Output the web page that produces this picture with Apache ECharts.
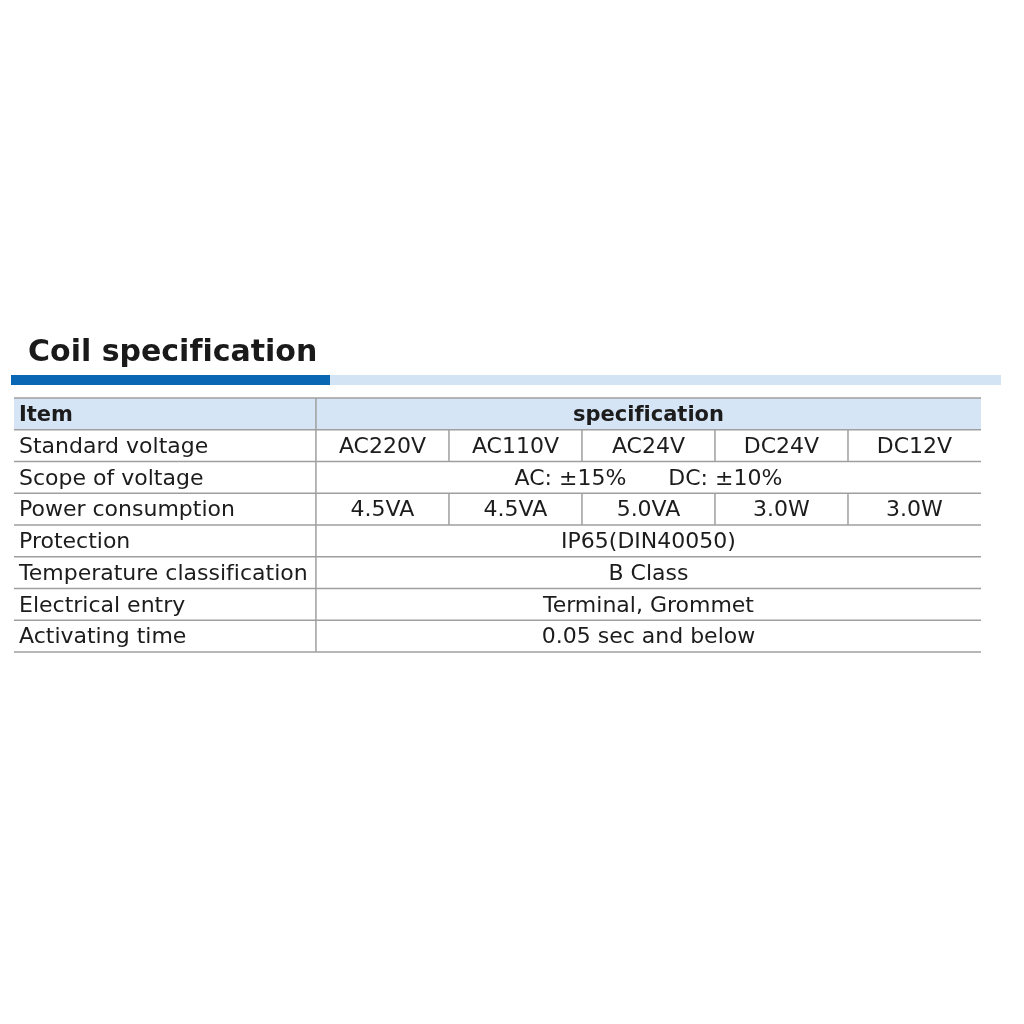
<!DOCTYPE html>
<html>
<head>
<meta charset="utf-8">
<script src="https://cdn.jsdelivr.net/npm/echarts@6/dist/echarts.min.js"></script>
<style>html,body{margin:0;padding:0;background:#fff}#c{width:1024px;height:1024px}</style>
</head>
<body>
<div id="c"></div>
<script>
// ---- data ----
const titleText = 'Coil specification';
const headers = ['Item', 'specification'];
const items = ['Standard voltage', 'Scope of voltage', 'Power consumption', 'Protection',
  'Temperature classification', 'Electrical entry', 'Activating time'];
const standardVoltage = ['AC220V', 'AC110V', 'AC24V', 'DC24V', 'DC12V'];
const scopeOfVoltage = ['AC: \u00b115%      DC: \u00b110%'];
const powerConsumption = ['4.5VA', '4.5VA', '5.0VA', '3.0W', '3.0W'];
const protection = ['IP65(DIN40050)'];
const temperatureClass = ['B Class'];
const electricalEntry = ['Terminal, Grommet'];
const activatingTime = ['0.05 sec and below'];
const specValues = [standardVoltage, scopeOfVoltage, powerConsumption, protection,
  temperatureClass, electricalEntry, activatingTime];

// ---- layout (axis units: item column width, then 5 unit-wide spec columns) ----
const itemColWidth = 2.27;
const specCols = 5;
const rowNames = [headers[0]].concat(items);

const cells = [];
cells.push({ x0: 0, x1: itemColWidth, row: 0, text: headers[0], align: 'left', bold: true, header: true });
cells.push({ x0: itemColWidth, x1: itemColWidth + specCols, row: 0, text: headers[1], align: 'center', bold: true, header: true });
items.forEach(function (name, i) {
  const r = i + 1;
  cells.push({ x0: 0, x1: itemColWidth, row: r, text: name, align: 'left' });
  const vals = specValues[i];
  const span = specCols / vals.length;
  vals.forEach(function (v, j) {
    cells.push({ x0: itemColWidth + j * span, x1: itemColWidth + (j + 1) * span, row: r, text: v, align: 'center' });
  });
});

// avoid the "fi" ligature of the font (reference has separate letters)
function noLig(s) { return s.replace(/f([il])/g, 'f\u200C$1'); }

const lineColor = '#9f9f9f';
const textColor = '#1c1c1c';
const fontFamily = '"DejaVu Sans", sans-serif';

const chart = echarts.init(document.getElementById('c'), null, { renderer: 'canvas' });
chart.setOption({
  animation: false,
  backgroundColor: '#ffffff',
  grid: { left: 14, top: 398, width: 967, height: 254 },
  xAxis: { type: 'value', min: 0, max: itemColWidth + specCols, show: false },
  yAxis: { type: 'category', data: rowNames, inverse: true, show: false },
  graphic: [
    { type: 'rect', shape: { x: 11, y: 375, width: 319, height: 10 }, style: { fill: '#0a67b3' } },
    { type: 'rect', shape: { x: 330, y: 375, width: 671, height: 10 }, style: { fill: '#d3e4f5' } },
    { type: 'text', x: 28, y: 353, style: { text: noLig(titleText), font: 'bold 30px ' + fontFamily, fill: '#1a1a1a', textVerticalAlign: 'middle' } }
  ],
  series: [{
    type: 'custom',
    coordinateSystem: 'cartesian2d',
    data: cells.map(function (c) { return [c.x0, c.x1, c.row]; }),
    encode: { x: [0, 1], y: 2 },
    renderItem: function (params, api) {
      const c = cells[params.dataIndex];
      const a = api.coord([api.value(0), c.row]);
      const b = api.coord([api.value(1), c.row]);
      const h = api.size([0, 1])[1];
      const top = a[1] - h / 2, bottom = a[1] + h / 2;
      const children = [];
      if (c.header) {
        children.push({ type: 'rect', shape: { x: a[0], y: top, width: b[0] - a[0], height: h }, style: { fill: '#d5e5f5' } });
        children.push({ type: 'line', shape: { x1: a[0], y1: top, x2: b[0], y2: top }, style: { stroke: lineColor, lineWidth: 1.5 } });
      }
      children.push({ type: 'line', shape: { x1: a[0], y1: bottom, x2: b[0], y2: bottom }, style: { stroke: lineColor, lineWidth: 1.5 } });
      if (c.x0 > 0) {
        children.push({ type: 'line', shape: { x1: a[0], y1: top, x2: a[0], y2: bottom }, style: { stroke: lineColor, lineWidth: 1.5 } });
      }
      children.push({
        type: 'text',
        style: {
          text: noLig(c.text),
          x: c.align === 'left' ? a[0] + 5 : (a[0] + b[0]) / 2,
          y: a[1] + 1.5,
          textAlign: c.align,
          textVerticalAlign: 'middle',
          font: (c.bold ? 'bold 21px ' : '22px ') + fontFamily,
          fill: textColor
        }
      });
      return { type: 'group', children: children };
    }
  }]
});
</script>
</body>
</html>
